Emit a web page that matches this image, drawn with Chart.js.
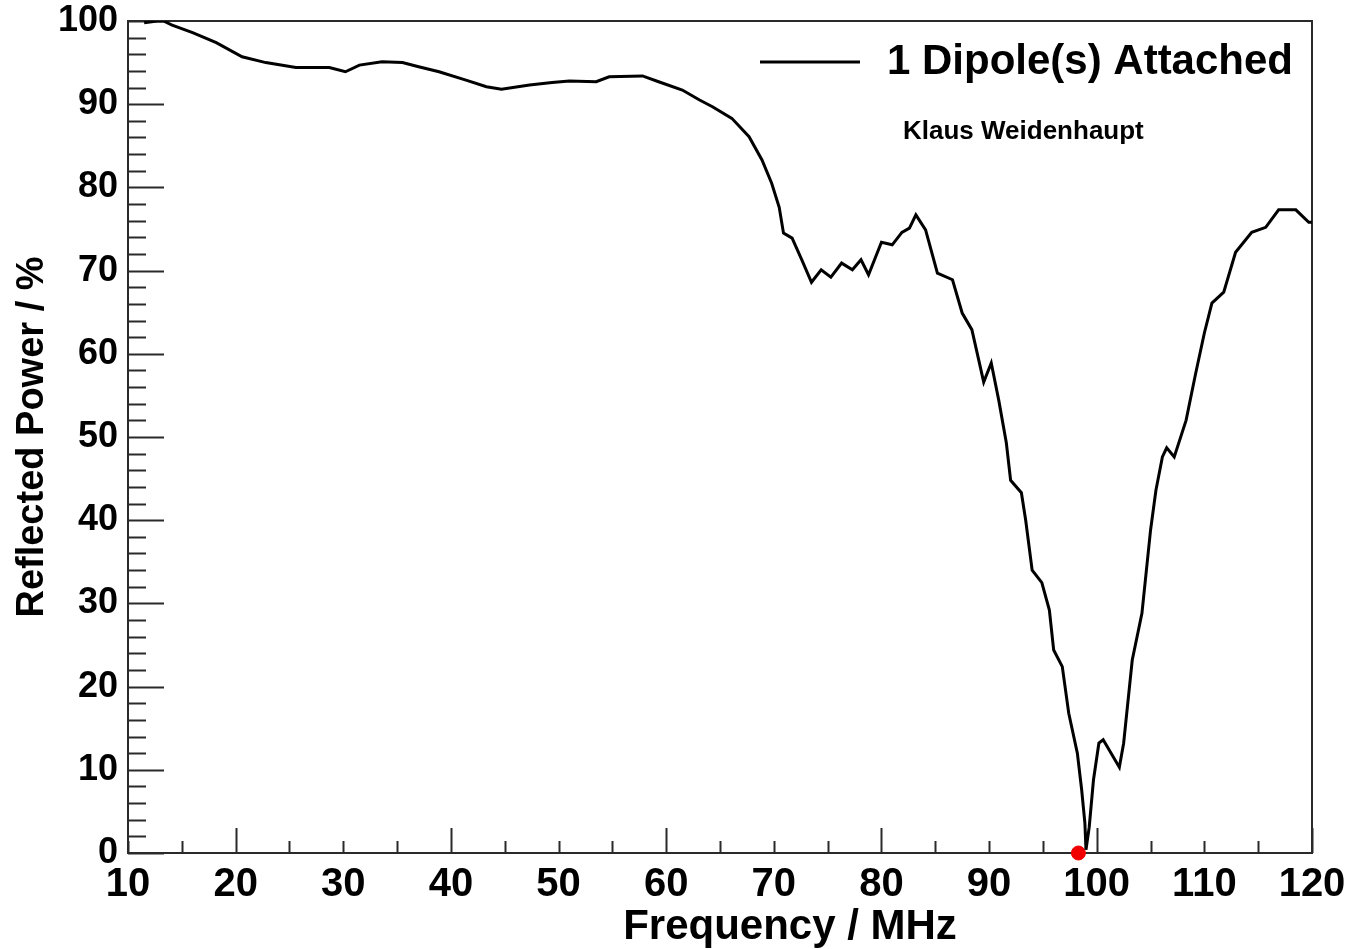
<!DOCTYPE html>
<html>
<head>
<meta charset="utf-8">
<title>Reflected Power vs Frequency</title>
<script src="https://cdn.jsdelivr.net/npm/chart.js@4/dist/chart.umd.min.js"></script>
<style>
  html, body { margin: 0; padding: 0; background: #fff; }
  #wrap { width: 1358px; height: 949px; }
</style>
</head>
<body>
<div id="wrap"><canvas id="reflChart" width="1358" height="949"></canvas></div>
<script>
// sweep of one dipole: frequency (MHz) and reflected power (%)
var freq = [
  11.5, 12.2, 12.7, 13.3, 14.1, 16.0, 18.2, 20.6, 22.8, 25.6,
  28.7, 30.2, 31.5, 33.6, 35.5, 37.0, 38.9, 41.4, 43.3, 44.7,
  47.3, 49.4, 51.0, 53.5, 54.7, 57.8, 59.3, 61.5, 63.1, 64.3,
  66.1, 67.7, 68.9, 69.8, 70.5, 70.9, 71.7, 72.6, 73.5, 74.4,
  75.3, 76.3, 77.3, 78.1, 78.8, 80.0, 81.0, 81.9, 82.6, 83.2,
  84.1, 85.2, 86.6, 87.5, 88.4, 89.5, 90.2, 90.9, 91.6, 92.0,
  93.0, 93.4, 94.0, 94.9, 95.6, 96.0, 96.8, 97.4, 98.2, 98.6,
  98.9, 99.0, 99.3, 99.7, 100.2, 100.6, 102.1, 102.5, 103.3, 104.2,
  105.0, 105.5, 106.1, 106.5, 107.2, 108.3, 109.2, 110.0, 110.7, 111.8,
  112.9, 114.4, 115.7, 116.9, 118.5, 119.7, 120.0
];
var power = [
  99.8, 99.9, 100.0, 100.0, 99.5, 98.6, 97.4, 95.7, 95.0, 94.4,
  94.4, 93.9, 94.7, 95.1, 95.0, 94.5, 93.9, 92.9, 92.1, 91.8,
  92.3, 92.6, 92.8, 92.7, 93.3, 93.4, 92.7, 91.7, 90.5, 89.7,
  88.3, 86.1, 83.3, 80.5, 77.6, 74.5, 73.9, 71.3, 68.6, 70.1,
  69.2, 70.9, 70.1, 71.3, 69.5, 73.4, 73.1, 74.6, 75.1, 76.7,
  74.9, 69.7, 68.9, 64.9, 62.9, 56.6, 58.9, 54.4, 49.3, 44.8,
  43.3, 40.0, 34.0, 32.5, 29.2, 24.4, 22.4, 16.8, 12.0, 7.6,
  3.6, 0.4, 3.1, 8.8, 13.2, 13.6, 10.3, 13.2, 23.2, 28.8,
  38.8, 43.6, 47.6, 48.7, 47.6, 52.0, 57.7, 62.5, 66.1, 67.4,
  72.2, 74.6, 75.2, 77.3, 77.3, 75.8, 75.8
];

// resonance marker
var markerFreq = [98.3];
var markerPower = [0];

var xTicks = [10, 20, 30, 40, 50, 60, 70, 80, 90, 100, 110, 120];
var yTicks = [0, 10, 20, 30, 40, 50, 60, 70, 80, 90, 100];

var legendLabel = '1 Dipole(s) Attached';
var author = 'Klaus Weidenhaupt';
var xTitle = 'Frequency / MHz';
var yTitle = 'Reflected Power / %';

var FONT = '"Liberation Sans", Arial, Helvetica, sans-serif';

function toPoints(xs, ys) {
  return xs.map(function (x, i) { return { x: x, y: ys[i] }; });
}

// ROOT-style frame: box round the plot, ticks pointing inwards
var framePlugin = {
  id: 'frame',
  beforeDatasetsDraw: function (chart) {
    var ctx = chart.ctx, a = chart.chartArea;
    var xs = chart.scales.x, ys = chart.scales.y;
    ctx.save();
    ctx.strokeStyle = '#2a2a2a';
    ctx.lineWidth = 2;
    ctx.strokeRect(a.left, a.top, a.right - a.left, a.bottom - a.top);
    ctx.beginPath();
    for (var v = 0; v <= 100; v += 2) {
      var py = Math.round(ys.getPixelForValue(v)) + 0.5;
      var len = v % 10 === 0 ? 36 : 18;
      ctx.moveTo(a.left, py);
      ctx.lineTo(a.left + len, py);
    }
    for (var f = 10; f <= 120; f += 5) {
      var px = Math.round(xs.getPixelForValue(f)) + 0.5;
      var h = f % 20 === 0 ? 25 : 12;
      ctx.moveTo(px, a.bottom);
      ctx.lineTo(px, a.bottom - h);
    }
    ctx.stroke();
    ctx.restore();
  },
  afterDraw: function (chart) {
    var ctx = chart.ctx, a = chart.chartArea;
    ctx.save();
    // legend entry
    ctx.strokeStyle = '#000';
    ctx.lineWidth = 3;
    ctx.beginPath();
    ctx.moveTo(a.right - 552, a.top + 41);
    ctx.lineTo(a.right - 452, a.top + 41);
    ctx.stroke();
    ctx.fillStyle = '#000';
    ctx.textBaseline = 'middle';
    ctx.textAlign = 'right';
    ctx.font = 'bold 42px ' + FONT;
    ctx.fillText(legendLabel, a.right - 19, a.top + 41);
    ctx.textAlign = 'left';
    ctx.font = 'bold 26px ' + FONT;
    ctx.fillText(author, a.right - 409, a.top + 111);
    // x axis title, set towards the right like the original layout
    ctx.font = 'bold 42px ' + FONT;
    ctx.textAlign = 'center';
    ctx.fillText(xTitle, a.left + 662, chart.height - 22);
    ctx.restore();
  }
};

new Chart(document.getElementById('reflChart'), {
  type: 'line',
  data: {
    datasets: [{
      label: legendLabel,
      data: toPoints(freq, power),
      borderColor: '#000',
      borderWidth: 3,
      pointRadius: 0,
      tension: 0,
      fill: false
    }, {
      label: 'marker',
      data: toPoints(markerFreq, markerPower),
      showLine: false,
      pointRadius: 7,
      pointBackgroundColor: '#f00000',
      pointBorderColor: '#f00000',
      clip: false
    }]
  },
  options: {
    responsive: false,
    animation: false,
    devicePixelRatio: 1,
    layout: { padding: { top: 21, right: 46, left: 0, bottom: 0 } },
    plugins: { legend: { display: false }, tooltip: { enabled: false } },
    scales: {
      x: {
        type: 'linear',
        min: 10,
        max: 120,
        afterBuildTicks: function (s) { s.ticks = xTicks.map(function (v) { return { value: v }; }); },
        afterFit: function (s) { s.height = 96; s.paddingLeft = 0; s.paddingRight = 0; },
        grid: { display: false, drawTicks: false },
        border: { display: false },
        ticks: {
          color: '#000',
          padding: 8,
          maxRotation: 0,
          font: { family: FONT, size: 40, weight: 'bold' }
        }
      },
      y: {
        type: 'linear',
        min: 0,
        max: 100,
        afterBuildTicks: function (s) { s.ticks = yTicks.map(function (v) { return { value: v }; }); },
        afterFit: function (s) { s.width = 128; s.paddingTop = 0; s.paddingBottom = 0; },
        grid: { display: false, drawTicks: false },
        border: { display: false },
        title: {
          display: true,
          text: yTitle,
          color: '#000',
          padding: { top: 10, bottom: 0 },
          font: { family: FONT, size: 38, weight: 'bold' }
        },
        ticks: {
          color: '#000',
          padding: 10,
          font: { family: FONT, size: 36, weight: 'bold' }
        }
      }
    }
  },
  plugins: [framePlugin]
});
</script>
</body>
</html>
